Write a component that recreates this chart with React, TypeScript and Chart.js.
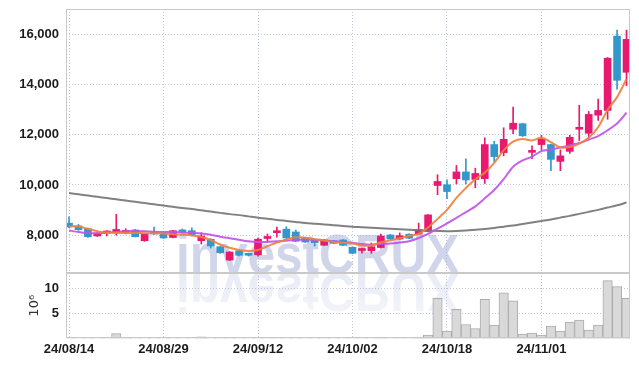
import React, { useEffect, useRef } from 'react';
import { Chart, registerables } from 'chart.js';

Chart.register(...registerables);

// ---- data ----
const dates = [
  '24/08/14', '24/08/16', '24/08/19', '24/08/20', '24/08/21', '24/08/22', '24/08/23', '24/08/26', '24/08/27', '24/08/28',
  '24/08/29', '24/08/30', '24/09/02', '24/09/03', '24/09/04', '24/09/05', '24/09/06', '24/09/09', '24/09/10', '24/09/11',
  '24/09/12', '24/09/13', '24/09/19', '24/09/20', '24/09/23', '24/09/24', '24/09/25', '24/09/26', '24/09/27', '24/09/30',
  '24/10/02', '24/10/04', '24/10/07', '24/10/08', '24/10/10', '24/10/11', '24/10/14', '24/10/15', '24/10/16', '24/10/17',
  '24/10/18', '24/10/21', '24/10/22', '24/10/23', '24/10/24', '24/10/25', '24/10/28', '24/10/29', '24/10/30', '24/10/31',
  '24/11/01', '24/11/04', '24/11/05', '24/11/06', '24/11/07', '24/11/08', '24/11/11', '24/11/12', '24/11/13', '24/11/14',
];

const opens = [
  8480, 8370, 8260, 7970, 8090, 8100, 8110, 8210, 7780, 8130,
  8080, 7910, 8210, 8180, 7780, 7840, 7540, 7010, 7380, 7250,
  7220, 7870, 8100, 8240, 8130, 7890, 7840, 7600, 7780, 7810,
  7520, 7390, 7380, 7510, 8010, 7850, 8040, 8040, 8150, 9980,
  10010, 10250, 10520, 10220, 10250, 11610, 11290, 12220, 12440, 11300,
  11610, 11610, 10940, 11340, 12220, 12060, 12780, 12970, 15930, 14490,
];
const highs = [
  8730, 8430, 8280, 8100, 8180, 8830, 8260, 8230, 8060, 8320,
  8100, 8190, 8250, 8290, 8100, 7860, 7550, 7350, 7390, 7290,
  7890, 8050, 8320, 8340, 8210, 7910, 7860, 7830, 7800, 7830,
  7530, 7490, 7690, 8050, 8030, 8090, 8060, 8480, 8820, 10410,
  10210, 10780, 11040, 10670, 11880, 11740, 12280, 13100, 12460, 11560,
  11980, 11630, 11400, 11980, 13180, 12930, 13420, 15080, 16170, 16170,
];
const lows = [
  8300, 8190, 7910, 7950, 7970, 8000, 8050, 7930, 7760, 8030,
  7870, 7890, 8090, 8010, 7650, 7490, 7280, 6990, 7180, 7170,
  7170, 7750, 7920, 7870, 7740, 7710, 7570, 7590, 7660, 7580,
  7260, 7280, 7280, 7490, 7830, 7830, 7860, 8020, 8130, 9610,
  9460, 10040, 10040, 9890, 10060, 10930, 11160, 12040, 11930, 11050,
  11400, 10570, 10570, 11260, 11770, 11900, 12570, 12620, 13820, 13960,
];
const closes = [
  8330, 8220, 7940, 8080, 8120, 8230, 8190, 7940, 8050, 8050,
  7890, 8180, 8130, 8020, 7970, 7570, 7300, 7330, 7200, 7200,
  7840, 7920, 8160, 7890, 7760, 7730, 7700, 7810, 7680, 7600,
  7280, 7420, 7540, 7970, 7850, 7980, 7880, 8220, 8810, 10140,
  9740, 10520, 10200, 10460, 11610, 11130, 11820, 12460, 11960, 11340,
  11820, 11020, 11160, 11900, 12300, 12810, 12970, 15050, 14170, 15800,
];
const maShort = [
  8350, 8350, 8250, 8160, 8110, 8090, 8090, 8090, 8080, 8080,
  8070, 8040, 8020, 7990, 7930, 7810, 7630, 7500, 7410, 7370,
  7410, 7560, 7710, 7830, 7920, 7900, 7840, 7790, 7730, 7700,
  7670, 7590, 7590, 7720, 7790, 7880, 7980, 8050, 8310, 8650,
  9010, 9490, 9880, 10230, 10490, 10880, 11380, 11730, 11830, 11770,
  11880, 11710, 11500, 11510, 11650, 11880, 12300, 13000, 13500, 14220,
];
const maMid = [
  8190, 8130, 8090, 8080, 8100, 8130, 8160, 8170, 8160, 8140,
  8130, 8130, 8110, 8090, 8070, 8020, 7940, 7880, 7820, 7760,
  7730, 7730, 7760, 7780, 7810, 7830, 7810, 7790, 7760, 7730,
  7700, 7650, 7620, 7650, 7670, 7710, 7760, 7890, 8050, 8260,
  8470, 8690, 8920, 9150, 9470, 9800, 10230, 10730, 10980, 11130,
  11350, 11410, 11490, 11580, 11670, 11810, 11950, 12180, 12450, 12880,
];
const maLong = [
  9680, 9630, 9580, 9530, 9480, 9430, 9380, 9330, 9280, 9230,
  9180, 9130, 9080, 9040, 8990, 8940, 8890, 8840, 8800, 8750,
  8700, 8660, 8610, 8570, 8530, 8490, 8460, 8430, 8400, 8370,
  8340, 8320, 8300, 8280, 8260, 8240, 8220, 8200, 8180, 8170,
  8160, 8170, 8190, 8220, 8250, 8290, 8340, 8390, 8450, 8510,
  8570, 8630, 8700, 8770, 8850, 8930, 9010, 9100, 9190, 9300,
];
// volume in millions of shares
const volumes = [
  0.15, 0.1, 0.12, 0.08, 0.08, 0.95, 0.15, 0.1, 0.12, 0.08,
  0.1, 0.08, 0.06, 0.1, 0.3, 0.12, 0.1, 0.15, 0.08, 0.06,
  0.2, 0.1, 0.15, 0.1, 0.12, 0.08, 0.1, 0.06, 0.08, 0.1,
  0.2, 0.06, 0.1, 0.25, 0.08, 0.2, 0.06, 0.25, 0.65, 8.0,
  1.45, 5.8, 2.77, 1.98, 7.77, 2.64, 9.07, 7.5, 0.86, 1.06,
  0.67, 2.44, 1.45, 3.23, 3.63, 1.66, 2.64, 11.5, 10.3, 8.0,
];
const priceTicks = [8000, 10000, 12000, 14000, 16000];
const volumeTicks = [5, 10];
const dateTickIndexes = [0, 10, 20, 30, 40, 50];

// ---- styles ----
const UP = '#e8196f';
const DOWN = '#3198cc';
const GRID = '#c3c7dc';
const TICK_FONT = { family: '"Liberation Sans", sans-serif', size: 13, weight: 'bold' as const };

const watermark = {
  id: 'watermark',
  beforeDatasetsDraw(chart: any) {
    const { ctx } = chart;
    const base = chart.scales.y.bottom;
    ctx.save();
    ctx.font = 'bold 55px "Liberation Sans", sans-serif';
    ctx.textBaseline = 'alphabetic';
    ctx.translate(168, base);
    ctx.scale(0.9, 1);
    ctx.fillStyle = 'rgba(150,162,208,0.45)';
    ctx.fillText('investCRUX', 0, 0);
    ctx.scale(1, -1);
    const g = ctx.createLinearGradient(0, 0, 0, -45);
    g.addColorStop(0, 'rgba(150,162,208,0.22)');
    g.addColorStop(1, 'rgba(150,162,208,0.10)');
    ctx.fillStyle = g;
    ctx.fillText('investCRUX', 0, 0);
    ctx.restore();
  },
};

const panelBorders = {
  id: 'panelBorders',
  afterDatasetsDraw(chart: any) {
    const { ctx, chartArea } = chart;
    const panes = [chart.scales.y, chart.scales.yv];
    ctx.save();
    ctx.strokeStyle = '#c9c9c9';
    ctx.lineWidth = 1;
    const l = Math.round(chartArea.left) + 0.5;
    const r = Math.round(chartArea.right) - 0.5;
    for (const p of panes) {
      const t = Math.round(p.top) + 0.5;
      const b = Math.round(p.bottom) - 0.5;
      ctx.strokeRect(l, t, r - l, b - t);
    }
    ctx.restore();
  },
};

const fitY = (s: any) => {
  s.width = 58;
  s.paddingTop = 0;
  s.paddingBottom = 0;
};

export default function App() {
  const ref = useRef<HTMLCanvasElement>(null);

  useEffect(() => {
    const idx = closes.map((_, i) => i);
    const candleColors = idx.map((i) => (closes[i] >= opens[i] ? UP : DOWN));

    const lineDs = (label: string, values: number[], color: string, tension: number) => ({
      type: 'line' as const,
      label,
      data: values.map((v, i) => ({ x: i, y: v })),
      yAxisID: 'y',
      borderColor: color,
      borderWidth: 2,
      pointRadius: 0,
      tension,
      fill: false,
    });

    const chart = new Chart(ref.current as HTMLCanvasElement, {
      type: 'bar',
      data: {
        datasets: [
          lineDs('MA5', maShort, 'rgba(240,128,60,0.92)', 0.35),
          lineDs('MA10', maMid, 'rgba(192,82,236,0.92)', 0.25),
          lineDs('MA60', maLong, 'rgba(118,118,118,0.92)', 0.3),
          {
            type: 'bar',
            label: 'body',
            data: idx.map((i) => ({ x: i, y: [opens[i], closes[i]] })),
            yAxisID: 'y',
            backgroundColor: candleColors,
            borderWidth: 0,
            barThickness: 7,
            minBarLength: 2,
            grouped: false,
          } as any,
          {
            type: 'bar',
            label: 'wick',
            data: idx.map((i) => ({ x: i, y: [lows[i], highs[i]] })),
            yAxisID: 'y',
            backgroundColor: candleColors,
            borderWidth: 0,
            barThickness: 1,
            grouped: false,
          } as any,
          {
            type: 'bar',
            label: 'volume',
            data: idx.map((i) => ({ x: i, y: volumes[i] })),
            yAxisID: 'yv',
            backgroundColor: '#d9d9d9',
            borderColor: '#ababab',
            borderWidth: 1,
            borderSkipped: false,
            barThickness: 9.45,
            grouped: false,
          } as any,
        ],
      },
      options: {
        animation: false,
        responsive: true,
        maintainAspectRatio: false,
        layout: { padding: { top: 1, right: 1, left: 0, bottom: 0 } },
        plugins: { legend: { display: false }, tooltip: { enabled: false } },
        scales: {
          x: {
            type: 'linear',
            min: -0.32,
            max: 59.37,
            offset: false,
            afterBuildTicks: (s: any) => {
              s.ticks = dateTickIndexes.map((v) => ({ value: v }));
            },
            afterFit: (s: any) => {
              s.paddingLeft = 0;
              s.paddingRight = 0;
            },
            ticks: {
              callback: (v: any) => dates[v as number],
              font: TICK_FONT,
              color: '#1c1c1c',
              maxRotation: 0,
              autoSkip: false,
              padding: 3,
            },
            grid: { color: GRID, drawTicks: false, offset: false, lineWidth: 1 },
            border: { display: false, dash: [1, 2] },
          },
          yv: {
            type: 'linear',
            position: 'left',
            stack: 'panes',
            stackWeight: 65,
            min: 0,
            max: 13,
            afterBuildTicks: (s: any) => {
              s.ticks = volumeTicks.map((v) => ({ value: v }));
            },
            afterFit: fitY,
            ticks: { font: TICK_FONT, color: '#1c1c1c', padding: 7, callback: (v: any) => String(v) },
            grid: { color: GRID, drawTicks: false },
            border: { display: false, dash: [1, 2] },
            title: {
              display: true,
              text: '10\u2076',
              color: '#333',
              font: { family: '"DejaVu Sans", sans-serif', size: 13, weight: 'normal' },
              padding: { top: 19, bottom: 0 },
            },
          },
          y: {
            type: 'linear',
            position: 'left',
            stack: 'panes',
            stackWeight: 263,
            min: 6490,
            max: 17010,
            afterBuildTicks: (s: any) => {
              s.ticks = priceTicks.map((v) => ({ value: v }));
            },
            afterFit: fitY,
            ticks: {
              font: TICK_FONT,
              color: '#1c1c1c',
              padding: 7,
              callback: (v: any) => Number(v).toLocaleString('en-US'),
            },
            grid: { color: GRID, drawTicks: false },
            border: { display: false, dash: [1, 2] },
          },
        },
      } as any,
      plugins: [watermark, panelBorders],
    });
    return () => chart.destroy();
  }, []);

  return (
    <div style={{ width: 623, height: 352, position: 'relative' }}>
      <canvas ref={ref} />
    </div>
  );
}
